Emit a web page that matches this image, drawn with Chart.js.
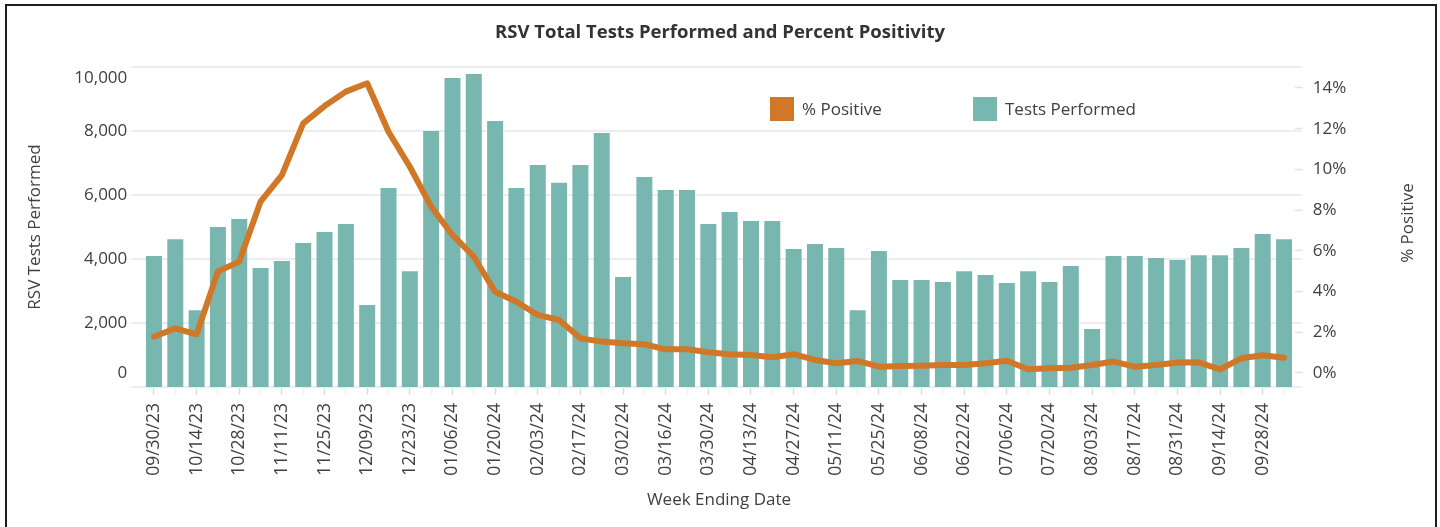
<!DOCTYPE html>
<html>
<head>
<meta charset="utf-8">
<title>RSV Total Tests Performed and Percent Positivity</title>
<script src="https://cdn.jsdelivr.net/npm/chart.js@4.4.1/dist/chart.umd.min.js"></script>
<style>
  html, body { margin: 0; padding: 0; background: #fff; }
  #wrap { position: relative; width: 1440px; height: 527px; overflow: hidden; }
  #wrap canvas { position: absolute; left: 0; top: 0; }
  #frame { position: absolute; left: 5px; top: 4px; width: 1428px; height: 600px; border: 2px solid #1e1e1e; pointer-events: none; }
</style>
</head>
<body>
<div id="wrap">
  <canvas id="rsvChart" width="1440" height="527"></canvas>
  <div id="frame"></div>
</div>
<script>
// weekly data
const weeks = [
  '09/30/23', '10/07/23', '10/14/23', '10/21/23', '10/28/23', '11/04/23', '11/11/23', '11/18/23',
  '11/25/23', '12/02/23', '12/09/23', '12/16/23', '12/23/23', '12/30/23', '01/06/24', '01/13/24',
  '01/20/24', '01/27/24', '02/03/24', '02/10/24', '02/17/24', '02/24/24', '03/02/24', '03/09/24',
  '03/16/24', '03/23/24', '03/30/24', '04/06/24', '04/13/24', '04/20/24', '04/27/24', '05/04/24',
  '05/11/24', '05/18/24', '05/25/24', '06/01/24', '06/08/24', '06/15/24', '06/22/24', '06/29/24',
  '07/06/24', '07/13/24', '07/20/24', '07/27/24', '08/03/24', '08/10/24', '08/17/24', '08/24/24',
  '08/31/24', '09/07/24', '09/14/24', '09/21/24', '09/28/24', '10/05/24'
];

const testsPerformed = [
  4090, 4620, 2400, 5000, 5250, 3720, 3940, 4500,
  4840, 5090, 2560, 6220, 3620, 8000, 9660, 9780,
  8310, 6220, 6940, 6380, 6940, 7940, 3440, 6560,
  6160, 6160, 5090, 5470, 5190, 5190, 4310, 4470,
  4340, 2400, 4250, 3340, 3340, 3280, 3620, 3500,
  3250, 3620, 3280, 3780, 1810, 4090, 4090, 4030,
  3970, 4120, 4120, 4340, 4780, 4620
];

const pctPositive = [
  1.78, 2.19, 1.90, 4.98, 5.47, 8.42, 9.72, 12.26,
  13.11, 13.82, 14.23, 11.85, 10.13, 8.17, 6.78, 5.71,
  3.99, 3.50, 2.85, 2.60, 1.70, 1.54, 1.46, 1.41,
  1.16, 1.16, 1.02, 0.92, 0.88, 0.77, 0.92, 0.64,
  0.48, 0.59, 0.31, 0.34, 0.36, 0.39, 0.39, 0.48,
  0.60, 0.18, 0.23, 0.26, 0.39, 0.56, 0.31, 0.39,
  0.51, 0.52, 0.18, 0.72, 0.87, 0.75
];

const testTicks = [0, 2000, 4000, 6000, 8000, 10000];
const pctTicks = [0, 2, 4, 6, 8, 10, 12, 14];

const TEAL = '#78b7b0';
const ORANGE = '#d07828';
const TEXT = '#404040';
const FONT = 'Open Sans';

// horizontal grid lines run a little past the plot on both sides
const wideGrid = {
  id: 'wideGrid',
  beforeDatasetsDraw(chart) {
    const { ctx, chartArea, scales } = chart;
    ctx.save();
    ctx.strokeStyle = '#ededed';
    ctx.lineWidth = 2;
    scales.y.ticks.forEach(t => {
      const py = Math.round(scales.y.getPixelForValue(t.value));
      ctx.beginPath();
      ctx.moveTo(chartArea.left - 12, py);
      ctx.lineTo(chartArea.right + 7, py);
      ctx.stroke();
    });
    ctx.restore();
  }
};

// the top and bottom count labels sit a bit inside their grid lines
const nudgeLabels = {
  id: 'nudgeLabels',
  beforeDraw(chart, args, opts) {
    const scale = chart.scales.y;
    const items = scale.getLabelItems(chart.chartArea);
    items.forEach((item, i) => {
      const shift = opts.shift[scale.ticks[i].value];
      if (shift) item.options.translation[1] += shift;
    });
  }
};

// legend drawn inside the plot, plus the right axis title reading upwards
const innerLegend = {
  id: 'innerLegend',
  afterDraw(chart, args, opts) {
    const { ctx } = chart;
    ctx.save();
    ctx.font = '17px "' + FONT + '"';
    ctx.textBaseline = 'middle';
    ctx.textAlign = 'left';
    chart.data.datasets.forEach((ds, i) => {
      const x = opts.x[i];
      ctx.fillStyle = ds.legendColor;
      ctx.fillRect(x, opts.y, opts.box, opts.box);
      ctx.fillStyle = TEXT;
      ctx.fillText(ds.label, x + opts.box + 8, opts.y + opts.box / 2 + 1);
    });

    const y1 = chart.scales.y1;
    ctx.translate(y1.right - 32, (chart.chartArea.top + chart.chartArea.bottom) / 2 - 4);
    ctx.rotate(-Math.PI / 2);
    ctx.textAlign = 'center';
    ctx.fillText('% Positive', 0, 0);
    ctx.restore();
  }
};

const ctx = document.getElementById('rsvChart');
new Chart(ctx, {
  data: {
    labels: weeks,
    datasets: [
      {
        type: 'line',
        label: '% Positive',
        data: pctPositive,
        yAxisID: 'y1',
        borderColor: ORANGE,
        legendColor: ORANGE,
        borderWidth: 6,
        borderJoinStyle: 'round',
        borderCapStyle: 'round',
        pointRadius: 0,
        tension: 0,
        order: 0
      },
      {
        type: 'bar',
        label: 'Tests Performed',
        data: testsPerformed,
        yAxisID: 'y',
        backgroundColor: TEAL,
        legendColor: TEAL,
        barPercentage: 0.75,
        categoryPercentage: 1,
        order: 1
      }
    ]
  },
  options: {
    responsive: false,
    animation: false,
    layout: { padding: 0 },
    plugins: {
      legend: { display: false },
      tooltip: { enabled: false },
      title: {
        display: true,
        text: 'RSV Total Tests Performed and Percent Positivity',
        color: '#333',
        font: { family: FONT, size: 18.5, weight: 'bold' },
        padding: { top: 21.9, bottom: 22.9 }
      },
      nudgeLabels: { shift: { 0: -14, 10000: 11 } },
      innerLegend: { x: [770, 973], y: 97, box: 24 }
    },
    scales: {
      x: {
        offset: true,
        grid: {
          display: true,
          offset: false,
          drawOnChartArea: false,
          drawTicks: true,
          tickLength: 8,
          tickWidth: 1.5,
          tickColor: c => (c.index % 2 ? '#f0f0f0' : '#dcdcdc')
        },
        border: { display: false },
        ticks: {
          autoSkip: false,
          minRotation: 90,
          maxRotation: 90,
          padding: 8,
          color: TEXT,
          font: { family: FONT, size: 17.5 },
          callback: (v, i) => (i % 2 === 0 ? weeks[i] : '')
        },
        title: {
          display: true,
          text: 'Week Ending Date',
          color: TEXT,
          font: { family: FONT, size: 17 },
          padding: { top: 0, bottom: 17 }
        },
        afterFit: s => { s.height = 140; }
      },
      y: {
        position: 'left',
        min: 0,
        max: 10000,
        grid: { display: false },
        border: { display: false },
        afterBuildTicks: s => { s.ticks = testTicks.map(v => ({ value: v })); },
        ticks: {
          padding: 8,
          color: TEXT,
          font: { family: FONT, size: 17 },
          callback: v => v.toLocaleString('en-US')
        },
        title: {
          display: true,
          text: 'RSV Tests Performed',
          color: TEXT,
          font: { family: FONT, size: 17 },
          padding: { top: 24.8, bottom: 0 }
        },
        afterFit: s => { s.width = 143.3; }
      },
      y1: {
        position: 'right',
        min: -0.69,
        max: 15.03,
        grid: {
          display: true,
          drawOnChartArea: false,
          drawTicks: true,
          tickLength: 8,
          tickWidth: 1.5,
          tickColor: '#e2e2e2'
        },
        border: { display: false },
        afterBuildTicks: s => { s.ticks = pctTicks.map(v => ({ value: v })); },
        ticks: {
          padding: 10,
          color: TEXT,
          font: { family: FONT, size: 17 },
          callback: v => v + '%'
        },
        afterFit: s => { s.width = 145.3; }
      }
    }
  },
  plugins: [wideGrid, nudgeLabels, innerLegend]
});
</script>
</body>
</html>
